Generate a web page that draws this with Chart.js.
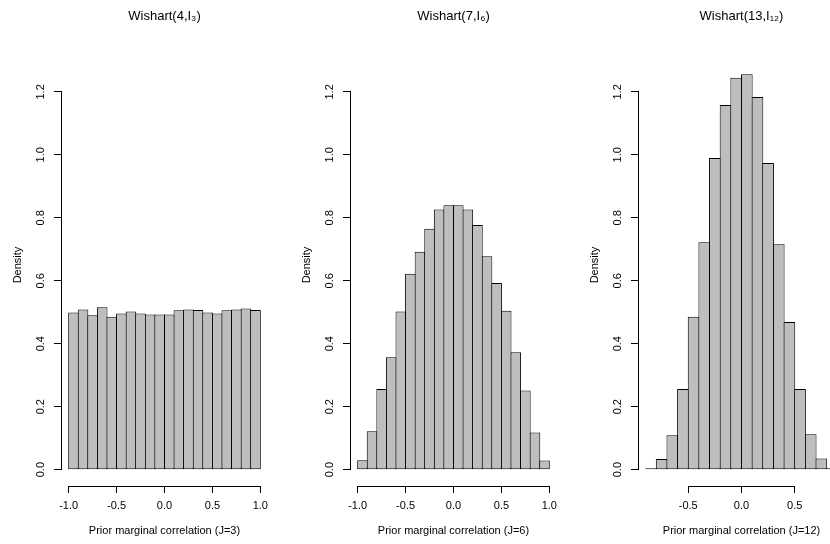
<!DOCTYPE html>
<html>
<head>
<meta charset="utf-8">
<script src="https://cdn.jsdelivr.net/npm/chart.js@4.4.1/dist/chart.umd.min.js"></script>
<style>
html, body { margin: 0; padding: 0; overflow: hidden; background: #ffffff; }
#wrap { position: absolute; left: 0; top: 0; width: 830px; height: 544px; overflow: hidden; background: #ffffff; }
canvas { position: absolute; left: 0; top: 0; }
</style>
</head>
<body>
<div id="wrap">
  <canvas id="c1" width="830" height="544"></canvas>
  <canvas id="c2" width="830" height="544"></canvas>
  <canvas id="c3" width="870" height="544"></canvas>
</div>
<script>
// ---- data (histogram bin midpoints and densities) ----
const binMids20 = [-0.95, -0.85, -0.75, -0.65, -0.55, -0.45, -0.35, -0.25, -0.15, -0.05,
                    0.05,  0.15,  0.25,  0.35,  0.45,  0.55,  0.65,  0.75,  0.85,  0.95];
const binMids18 = [-0.85, -0.75, -0.65, -0.55, -0.45, -0.35, -0.25, -0.15, -0.05,
                    0.05,  0.15,  0.25,  0.35,  0.45,  0.55,  0.65,  0.75,  0.85];

const densityJ3 = [0.499, 0.509, 0.490, 0.516, 0.486, 0.496, 0.502, 0.496, 0.493, 0.493,
                   0.493, 0.506, 0.509, 0.507, 0.499, 0.496, 0.506, 0.509, 0.512, 0.507];
const densityJ6 = [0.030, 0.122, 0.256, 0.357, 0.502, 0.622, 0.692, 0.765, 0.826, 0.840,
                   0.840, 0.826, 0.777, 0.678, 0.593, 0.505, 0.373, 0.251, 0.118, 0.029];
const densityJ12 = [0.004, 0.034, 0.109, 0.256, 0.486, 0.722, 0.990, 1.158, 1.245,
                    1.256, 1.184, 0.974, 0.716, 0.469, 0.256, 0.112, 0.035, 0.004];

const yTickValues = [0, 0.2, 0.4, 0.6, 0.8, 1.0, 1.2];
const xTicksJ3 = [-1, -0.5, 0, 0.5, 1];
const xTicksJ6 = [-1, -0.5, 0, 0.5, 1];
const xTicksJ12 = [-0.5, 0, 0.5];

const panelTitles = ['Wishart(4,I\u2083)', 'Wishart(7,I\u2086)', 'Wishart(13,I\u2081\u2082)'];
const xAxisLabels = ['Prior marginal correlation (J=3)', 'Prior marginal correlation (J=6)', 'Prior marginal correlation (J=12)'];
const yAxisLabel = 'Density';

// ---- styling ----
Chart.defaults.font.family = "'Liberation Sans', Arial, Helvetica, sans-serif";
Chart.defaults.font.size = 11;
Chart.defaults.color = '#000000';

// draws R-style axis lines spanning only the tick range
const rAxisLines = {
  id: 'rAxisLines',
  afterDraw(chart) {
    const ctx = chart.ctx;
    const xs = chart.scales.x, ys = chart.scales.y;
    const al = (p) => Math.round(p - 0.5) + 0.5;
    ctx.save();
    ctx.strokeStyle = '#000000';
    ctx.lineWidth = 1;
    ctx.beginPath();
    const xa = al(xs.getPixelForValue(xs.ticks[0].value));
    const xb = al(xs.getPixelForValue(xs.ticks[xs.ticks.length - 1].value));
    const yLine = al(xs.top);
    ctx.moveTo(xa - 0.5, yLine);
    ctx.lineTo(xb + 0.5, yLine);
    const ya = al(ys.getPixelForValue(ys.ticks[0].value));
    const yb = al(ys.getPixelForValue(ys.ticks[ys.ticks.length - 1].value));
    const xLine = al(ys.right);
    ctx.moveTo(xLine, ya + 0.5);
    ctx.lineTo(xLine, yb - 0.5);
    ctx.stroke();
    ctx.restore();
  }
};

function makePanel(id, cfg) {
  const points = cfg.mids.map((m, i) => ({ x: m, y: cfg.values[i] }));
  return new Chart(document.getElementById(id), {
    type: 'bar',
    data: {
      datasets: [{
        data: points,
        backgroundColor: '#bebebe',
        borderColor: '#000000',
        borderWidth: 1,
        borderSkipped: false,
        inflateAmount: 0,
        barPercentage: cfg.barPct,
        categoryPercentage: 1.0
      }]
    },
    options: {
      responsive: false,
      animation: false,
      devicePixelRatio: 1,
      layout: { padding: { left: cfg.padLeft, right: cfg.padRight, top: 0, bottom: 0 } },
      plugins: {
        legend: { display: false },
        tooltip: { enabled: false },
        title: {
          display: true,
          text: cfg.title,
          fullSize: false,
          color: '#000000',
          font: { size: 13, weight: 'normal' },
          padding: { top: 9, bottom: 19.4 }
        }
      },
      scales: {
        x: {
          type: 'linear',
          position: 'bottom',
          min: cfg.xMin,
          max: cfg.xMax,
          offset: false,
          afterBuildTicks: (s) => { s.ticks = cfg.xTicks.map(v => ({ value: v })); },
          afterFit: (s) => { s.height = 58; },
          grid: { offset: false, drawOnChartArea: false, drawTicks: true, tickLength: 7, color: '#000000', lineWidth: 1 },
          border: { display: false },
          ticks: {
            autoSkip: false, minRotation: 0, maxRotation: 0, padding: 6,
            color: '#000000', font: { size: 11 },
            callback: (v) => Number(v).toFixed(1)
          },
          title: { display: true, text: cfg.xLabel, color: '#000000', font: { size: 11 }, padding: { top: 0, bottom: 6 } }
        },
        y: {
          type: 'linear',
          position: 'left',
          min: -0.052,
          max: 1.352,
          afterBuildTicks: (s) => { s.ticks = yTickValues.map(v => ({ value: v })); },
          afterFit: (s) => { s.width = 61; },
          grid: { offset: false, drawOnChartArea: false, drawTicks: true, tickLength: 7, color: '#000000', lineWidth: 1 },
          border: { display: false },
          ticks: {
            autoSkip: false, minRotation: 90, maxRotation: 90, crossAlign: 'center', padding: 5,
            color: '#000000', font: { size: 11 },
            callback: (v) => Number(v).toFixed(1)
          },
          title: { display: true, text: yAxisLabel, color: '#000000', font: { size: 11 }, padding: { top: 11, bottom: 0 } }
        }
      }
    },
    plugins: [rAxisLines]
  });
}

makePanel('c1', { mids: binMids20, values: densityJ3, xTicks: xTicksJ3, xMin: -1.08, xMax: 1.08,
  title: panelTitles[0], xLabel: xAxisLabels[0], padLeft: 0, padRight: 562, barPct: 1.104 });
makePanel('c2', { mids: binMids20, values: densityJ6, xTicks: xTicksJ6, xMin: -1.08, xMax: 1.08,
  title: panelTitles[1], xLabel: xAxisLabels[1], padLeft: 289, padRight: 273, barPct: 1.104 });
makePanel('c3', { mids: binMids18, values: densityJ12, xTicks: xTicksJ12, xMin: -0.972, xMax: 0.972,
  title: panelTitles[2], xLabel: xAxisLabels[2], padLeft: 577, padRight: 25, barPct: 1.094 });
</script>
</body>
</html>
